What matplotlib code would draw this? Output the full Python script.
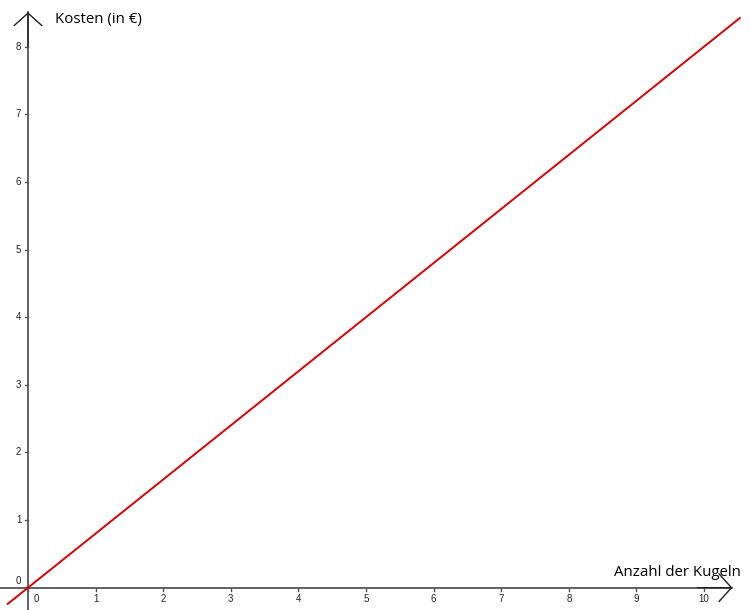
import matplotlib
matplotlib.use('Agg')
import matplotlib.pyplot as plt
import numpy as np

# data: cost function y = 0.8 * x
x_line = [-0.3, 10.53]
slope = 0.8
y_line = [slope * v for v in x_line]

x_ticks = [0, 1, 2, 3, 4, 5, 6, 7, 8, 9, 10]
y_ticks = [0, 1, 2, 3, 4, 5, 6, 7, 8]
x_label = 'Anzahl der Kugeln'
y_label = 'Kosten (in €)'

axis_col = '#555555'

fig = plt.figure(figsize=(7.5, 6.1), dpi=100)
ax = fig.add_axes([0, 0, 1, 1])
ax.set_xlim(-0.414, 10.68)
ax.set_ylim(-0.33, 8.69)
ax.axis('off')

# axes lines
ax.plot([-0.414, 10.42], [0, 0], color=axis_col, lw=1.3, zorder=2)
ax.plot([0, 0], [-0.33, 8.51], color=axis_col, lw=1.3, zorder=2)
# open arrow heads
arrow_style = '->,head_length=0.9,head_width=1.0'
ax.annotate('', xy=(10.42, 0), xytext=(9.9, 0),
            arrowprops=dict(arrowstyle=arrow_style,
                            color='#222222', lw=1.0, shrinkA=0, shrinkB=0))
ax.annotate('', xy=(0, 8.51), xytext=(0, 8.0),
            arrowprops=dict(arrowstyle=arrow_style,
                            color='#222222', lw=1.0, shrinkA=0, shrinkB=0))

# tick marks and labels
for t in x_ticks:
    ax.plot([t, t], [0, -0.05], color=axis_col, lw=1)
    xo = 0.12 if t == 0 else 0
    ax.text(t + xo, -0.09, str(t), ha='center', va='top', fontsize=7,
            family='Liberation Sans', color='#222222')
for t in y_ticks:
    ax.plot([0, -0.05], [t, t], color=axis_col, lw=1)
    yo = 0.1 if t == 0 else 0
    ax.text(-0.1, t + yo, str(t), ha='right', va='center', fontsize=7,
            family='Liberation Sans', color='#222222')

# line
ax.plot(x_line, y_line, color='#dd0000', lw=1.4, zorder=3)

ax.text(0.4, 8.4, y_label, fontsize=10.8, family='Open Sans', va='center', ha='left')
ax.text(10.55, 0.22, x_label, fontsize=10.8, family='Open Sans', va='center', ha='right')

fig.savefig('out.png', dpi=100)
